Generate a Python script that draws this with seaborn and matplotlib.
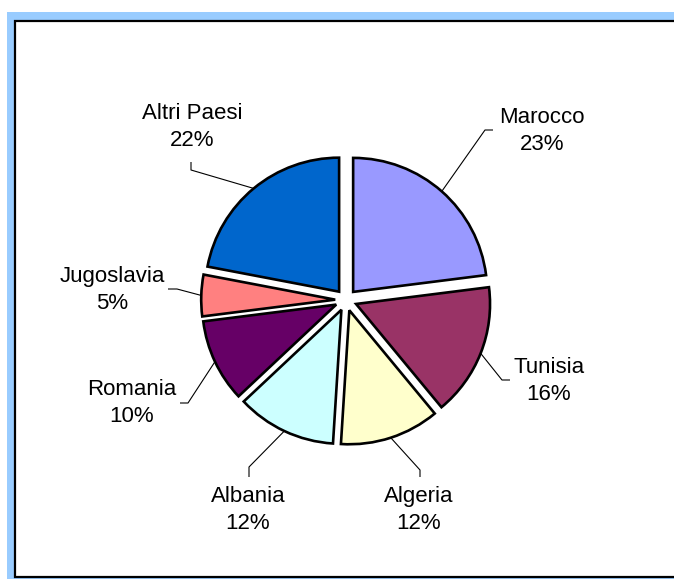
import numpy as np
import matplotlib
matplotlib.use("Agg")
import matplotlib.pyplot as plt
from matplotlib.patches import Rectangle
import seaborn as sns

# Share of foreign residents by country of origin
paesi = ["Marocco", "Tunisia", "Algeria", "Albania", "Romania", "Jugoslavia", "Altri Paesi"]
quote = [23, 16, 12, 12, 10, 5, 22]
colori = ["#9999FF", "#993366", "#FFFFCC", "#CCFFFF", "#660066", "#FF8080", "#0066CC"]

sns.set_style("white")
plt.rcParams["font.family"] = ["Liberation Sans", "DejaVu Sans"]

W, H = 674, 579
fig = plt.figure(figsize=(W / 100, H / 100), dpi=100)
ax = fig.add_axes([0, 0, 1, 1])

def py(y):
    # top-down pixel row to axis coordinate
    return H - y

# background frame: light blue band with a white, black-edged panel inside
ax.add_patch(Rectangle((7, py(700)), 700, 688, facecolor="#99CCFF",
                       edgecolor="none", zorder=0, clip_on=False))
ax.add_patch(Rectangle((15, py(577)), 700, 556, facecolor="white",
                       edgecolor="black", linewidth=1.6, zorder=0.5, clip_on=False))

# every slice pulled out from the centre by the same distance
wedges, _ = ax.pie(
    quote,
    colors=sns.color_palette(colori),
    startangle=90,
    counterclock=False,
    explode=[10.8] * len(quote),
    radius=134,
    center=(346, py(300)),
    wedgeprops=dict(edgecolor="black", linewidth=1.9, joinstyle="miter"),
    frame=False,
)
for w in wedges:
    w.set_zorder(2)

# label block centres and leader elbows (pixel rows from the top)
label_pos = [(542, 131), (549, 381), (419, 510), (248, 510),
             (132, 403), (112, 290), (192, 127)]
elbows = [((485, 130), (493, 130)), ((502, 380), (510, 380)),
          ((420, 470), (420, 477)), ((249, 467), (249, 477)),
          ((188, 403), (180, 403)), ((177, 289), (168, 289)),
          ((191, 170), (191, 162))]

for w, nome, q, (lx, ly), (e1, e2) in zip(wedges, paesi, quote, label_pos, elbows):
    mid = np.deg2rad((w.theta1 + w.theta2) / 2)
    cx, cy = w.center
    sx, sy = cx + w.r * np.cos(mid), cy + w.r * np.sin(mid)
    ax.plot([sx, e1[0], e2[0]], [sy, py(e1[1]), py(e2[1])],
            color="black", linewidth=0.8, zorder=1.5, solid_capstyle="butt")
    ax.text(lx, py(ly), f"{nome}\n{q}%", ha="center", va="center",
            fontsize=16, linespacing=1.32, color="black", zorder=3)

ax.set_xlim(0, W)
ax.set_ylim(0, H)
ax.set_aspect("equal")
ax.axis("off")

fig.savefig("out.png", dpi=100)
